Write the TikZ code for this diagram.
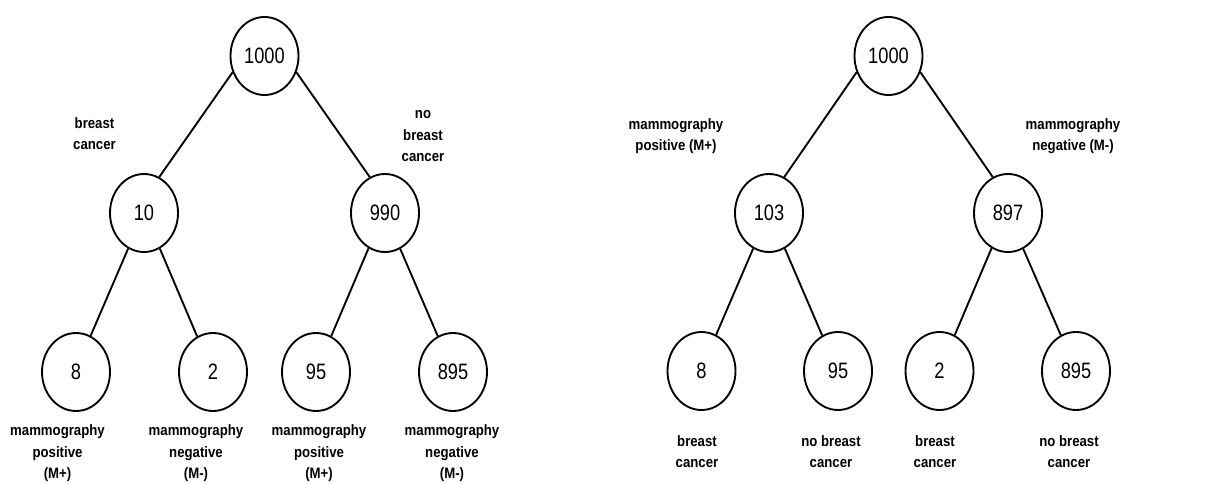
\documentclass[tikz,border=0pt]{standalone}
\usepackage{fontspec}
\setmainfont{Liberation Sans}
\usetikzlibrary{shapes.geometric}
% slightly tall lettering, as in the stretched tree figure
\newcommand{\vstretch}[1]{\scalebox{1}[1.14]{#1}}
\newcommand{\numtall}[1]{\scalebox{1}[1.22]{#1}}
\newcommand{\stack}[1]{\vstretch{\begin{tabular}{@{}c@{}}#1\end{tabular}}}
\begin{document}
\begin{tikzpicture}[x=0.75pt,y=-0.75pt,
  count/.style={draw, ellipse, line width=1.4pt, minimum width=51pt,
    minimum height=58.5pt, inner sep=0pt, font=\fontsize{13.7}{16}\selectfont},
  tag/.style={font=\bfseries\fontsize{9.9}{14}\selectfont, align=center, inner sep=0pt},
  branch/.style={line width=1.4pt}]
\useasboundingbox (0,0) rectangle (1206,484);

% ---------- tree split by disease first ----------
\node[count] (a0)  at (264.5,56) {\numtall{1000}};
\node[count] (a1)  at (144,213)  {\numtall{10}};
\node[count] (a2)  at (385,213)  {\numtall{990}};
\node[count] (a11) at (76,372)   {\numtall{8}};
\node[count] (a12) at (213,372)  {\numtall{2}};
\node[count] (a21) at (316,372)  {\numtall{95}};
\node[count] (a22) at (453,372)  {\numtall{895}};

\draw[branch] (a0.207) -- (a1.67);
\draw[branch] (a0.333) -- (a2.113);
\draw[branch] (a1.246) -- (a11.68);
\draw[branch] (a1.294) -- (a12.114);
\draw[branch] (a2.245) -- (a21.67);
\draw[branch] (a2.293) -- (a22.113);

\node[tag] (ta1)  at (94.5,135) {\stack{breast\\cancer}};
\node[tag] (ta2)  at (423,136)  {\stack{no\\breast\\cancer}};
\node[tag] (ta11) at (57.5,453) {\stack{mammography\\positive\\(M+)}};
\node[tag] (ta12) at (196,453)  {\stack{mammography\\negative\\(M-)}};
\node[tag] (ta21) at (319,453)  {\stack{mammography\\positive\\(M+)}};
\node[tag] (ta22) at (452,453)  {\stack{mammography\\negative\\(M-)}};

% ---------- tree split by test result first ----------
\node[count] (b0)  at (888.5,56) {\numtall{1000}};
\node[count] (b1)  at (769,213)  {\numtall{103}};
\node[count] (b2)  at (1008,213) {\numtall{897}};
\node[count] (b11) at (701.5,371) {\numtall{8}};
\node[count] (b12) at (838,371)  {\numtall{95}};
\node[count] (b21) at (939.5,371) {\numtall{2}};
\node[count] (b22) at (1076,371) {\numtall{895}};

\draw[branch] (b0.207) -- (b1.67);
\draw[branch] (b0.333) -- (b2.113);
\draw[branch] (b1.246) -- (b11.68);
\draw[branch] (b1.294) -- (b12.114);
\draw[branch] (b2.245) -- (b21.67);
\draw[branch] (b2.293) -- (b22.113);

\node[tag] (tb1)  at (676,136)  {\stack{mammography\\positive (M+)}};
\node[tag] (tb2)  at (1073,136) {\stack{mammography\\negative (M-)}};
\node[tag] (tb11) at (697,453)  {\stack{breast\\cancer}};
\node[tag] (tb12) at (831,453)  {\stack{no breast\\cancer}};
\node[tag] (tb21) at (935,453)  {\stack{breast\\cancer}};
\node[tag] (tb22) at (1069,453) {\stack{no breast\\cancer}};
\end{tikzpicture}
\end{document}
